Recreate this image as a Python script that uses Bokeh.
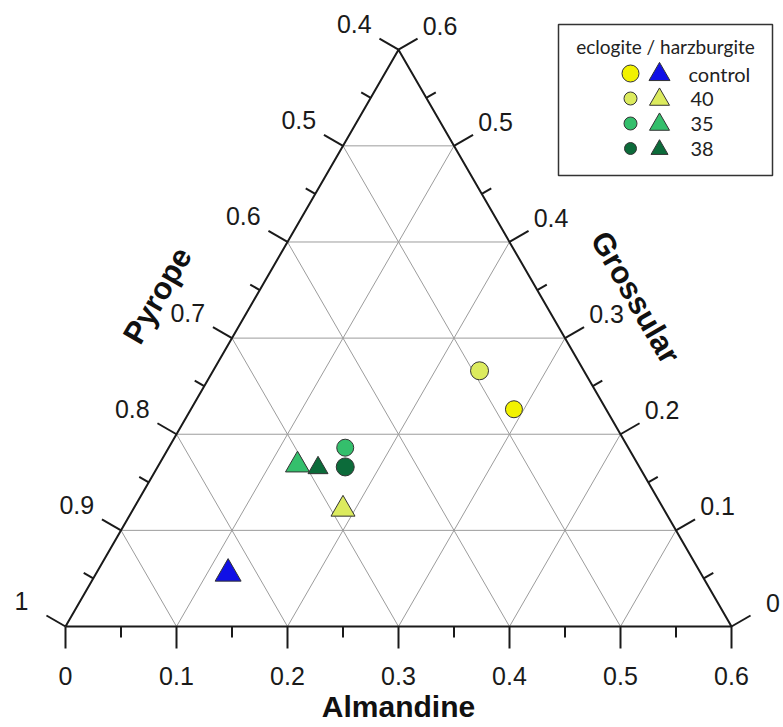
import numpy as np
from bokeh.plotting import figure
from bokeh.models import ColumnDataSource, Range1d
from bokeh.core.properties import value
from bokeh.embed import file_html
from bokeh.resources import INLINE

# ---------------- data ----------------
groups = ["control", "40", "35", "38"]
eclogite_alm = [0.291, 0.240, 0.159, 0.169]
eclogite_gro = [0.226, 0.266, 0.186, 0.166]
harzburgite_alm = [0.119, 0.189, 0.125, 0.145]
harzburgite_gro = [0.055, 0.122, 0.168, 0.165]
eclogite_colors = ["#F2F200", "#DCEB5E", "#34BF6C", "#0C6B3A"]
harzburgite_colors = ["#1010E6", "#DCEB5E", "#34BF6C", "#0C6B3A"]
eclogite_sizes = [17, 18, 17, 18]
harzburgite_sizes = [26, 24, 24, 20]

alm_ticks = [0.0, 0.1, 0.2, 0.3, 0.4, 0.5, 0.6]
alm_labels = ["0", "0.1", "0.2", "0.3", "0.4", "0.5", "0.6"]
gro_ticks = [0.0, 0.1, 0.2, 0.3, 0.4, 0.5, 0.6]
pyrope_labels = ["1", "0.9", "0.8", "0.7", "0.6", "0.5", "0.4"]
gro_labels = ["0", "0.1", "0.2", "0.3", "0.4", "0.5", "0.6"]
grid_values = [0.1, 0.2, 0.3, 0.4, 0.5]
SIDE = 0.6  # Almandine / Grossular span

# ---------------- geometry ----------------
S3 = np.sqrt(3) / 2
PX = 1.0 / 1110.0          # one screen pixel in data units
W, H = 783, 727
OX, OY = 65, 626           # canvas position of origin (Pyrope = 1)


def tern(a, g):
    a = np.asarray(a, dtype=float)
    g = np.asarray(g, dtype=float)
    return a + g / 2.0, g * S3


FONT = value("Liberation Sans")

p = figure(width=W, height=H, output_backend="svg", toolbar_location=None,
           x_range=Range1d(-OX * PX, (W - OX) * PX),
           y_range=Range1d(-(H - OY) * PX, OY * PX),
           min_border=0, outline_line_color=None)
p.axis.visible = False
p.grid.visible = False
p.background_fill_color = "white"
p.border_fill_color = "white"

# ---------------- grid lines ----------------
gx, gy = [], []
for v in grid_values:
    x0, y0 = tern(0, v); x1, y1 = tern(SIDE - v, v)
    gx.append([x0, x1]); gy.append([y0, y1])
    x0, y0 = tern(v, 0); x1, y1 = tern(v, SIDE - v)
    gx.append([x0, x1]); gy.append([y0, y1])
    x0, y0 = tern(v, 0); x1, y1 = tern(0, v)
    gx.append([x0, x1]); gy.append([y0, y1])
p.multi_line(gx, gy, line_color="#9C9C9C", line_width=1)

# ---------------- triangle frame ----------------
fx, fy = tern([0, SIDE, 0, 0], [0, 0, SIDE, 0])
p.line(fx, fy, line_color="#1A1A1A", line_width=2)

# ---------------- ticks ----------------
tick_steps = np.round(np.arange(0, SIDE + 1e-9, 0.05), 3)
tx0, ty0, tx1, ty1 = [], [], [], []
nl = np.array([-np.cos(np.pi / 6), np.sin(np.pi / 6)])
nr = np.array([np.cos(np.pi / 6), np.sin(np.pi / 6)])
nb = np.array([0.0, -1.0])
for t in tick_steps:
    major = abs(t * 10 - round(t * 10)) < 1e-6
    L = (22 if major else 11) * PX
    for (bx, by), n in ((tern(t, 0), nb), (tern(0, t), nl), (tern(SIDE - t, t), nr)):
        tx0.append(bx); ty0.append(by)
        tx1.append(bx + L * n[0]); ty1.append(by + L * n[1])
p.segment(tx0, ty0, tx1, ty1, line_color="#1A1A1A", line_width=2)

# ---------------- tick labels ----------------
bx, by = tern(alm_ticks, [0] * len(alm_ticks))
p.text(bx, by - 49 * PX, text=alm_labels, text_font=FONT, text_font_size="25px",
       text_align="center", text_baseline="middle", text_color="#1A1A1A")
lx, ly = tern([0] * len(gro_ticks), gro_ticks)
p.text(lx + 51 * PX * nl[0], ly + 51 * PX * nl[1], text=pyrope_labels, text_font=FONT,
       text_font_size="25px", text_align="center", text_baseline="middle", text_color="#1A1A1A")
rx, ry = tern([SIDE - g for g in gro_ticks], gro_ticks)
p.text(rx + 48 * PX * nr[0], ry + 48 * PX * nr[1], text=gro_labels, text_font=FONT,
       text_font_size="25px", text_align="center", text_baseline="middle", text_color="#1A1A1A")

# ---------------- axis titles ----------------
p.text([(398 - 65) * PX], [(626 - 706) * PX], text=["Almandine"], text_font=FONT,
       text_font_size="30px", text_font_style="bold", text_align="center",
       text_baseline="middle", text_color="#111111")
p.text([(157 - 65) * PX], [(626 - 295) * PX], text=["Pyrope"], text_font=FONT,
       text_font_size="31px", text_font_style="bold", text_align="center",
       text_baseline="middle", angle=np.pi / 3, text_color="#111111")
p.text([(635 - 65) * PX], [(626 - 297) * PX], text=["Grossular"], text_font=FONT,
       text_font_size="31px", text_font_style="bold", text_align="center",
       text_baseline="middle", angle=-np.pi / 3, text_color="#111111")

# ---------------- data points ----------------
ex, ey = tern(eclogite_alm, eclogite_gro)
hx, hy = tern(harzburgite_alm, harzburgite_gro)
p.scatter(hx, hy, marker="triangle", size=harzburgite_sizes, fill_color=harzburgite_colors,
          line_color="#333333", line_width=1)
p.scatter(ex, ey, marker="circle", size=eclogite_sizes, fill_color=eclogite_colors,
          line_color="#333333", line_width=1)

# ---------------- legend (manual, two symbols per row) ----------------
def sx(px):
    return (px - OX) * PX


def sy(py):
    return (OY - py) * PX


p.quad(left=[sx(558)], right=[sx(772)], top=[sy(24)], bottom=[sy(175)],
       fill_color="white", line_color="#333333", line_width=1.5)
p.text([sx(665)], [sy(46)], text=["eclogite / harzburgite"], text_font=value("Lato"),
       text_font_size="19px", text_align="center", text_baseline="middle", text_color="#222222")
row_y = [sy(73 + 25 * i) for i in range(len(groups))]
leg_circle_sizes = [17, 13, 13, 12]
leg_tri_sizes = [21, 20, 20, 17]
p.scatter([sx(630)] * len(groups), row_y, marker="circle", size=leg_circle_sizes,
          fill_color=eclogite_colors, line_color="#333333", line_width=1)
p.scatter([sx(659)] * len(groups), [y - 1 * PX for y in row_y], marker="triangle",
          size=leg_tri_sizes, fill_color=harzburgite_colors, line_color="#333333", line_width=1)
p.text([sx(688)] + [sx(690)] * (len(groups) - 1), row_y, text=groups, text_font=value("Lato"),
       text_font_size="20px", text_align="left", text_baseline="middle", text_color="#222222")

open("out.html", "w").write(file_html(p, INLINE))
